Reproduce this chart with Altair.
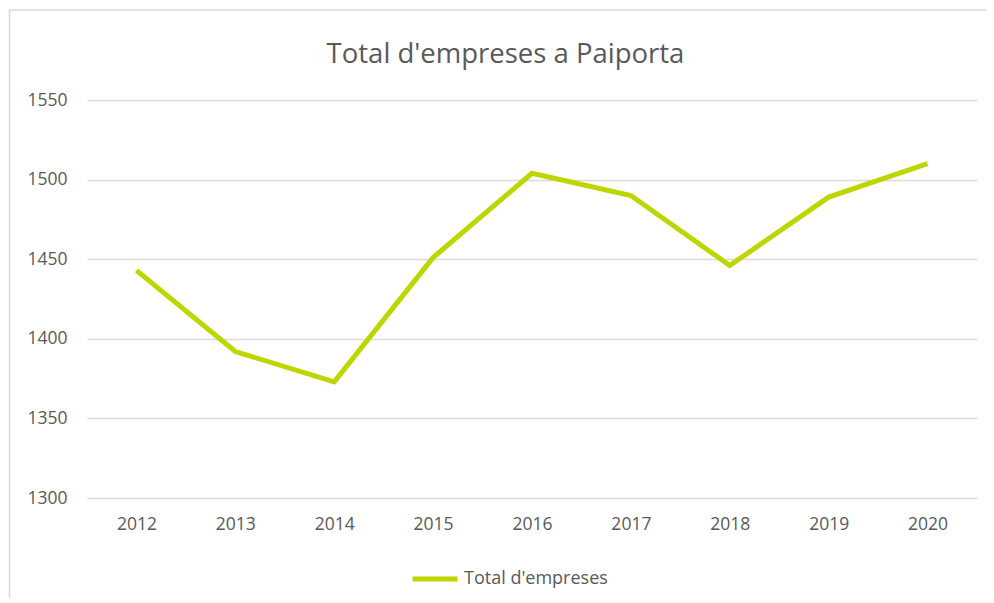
import altair as alt
import pandas as pd

years = ["2012", "2013", "2014", "2015", "2016", "2017", "2018", "2019", "2020"]
values = [1443, 1392, 1373, 1451, 1504, 1490, 1446, 1489, 1510]
series = ["Total d'empreses"] * len(years)
title_text = ["Total d'empreses a Paiporta"]

df = pd.DataFrame({"Any": years, "Empreses": values, "Serie": series})
df_title = pd.DataFrame({"t": title_text})

FONT = "Open Sans"
GREY = "#595959"

line = alt.Chart(df).mark_line(strokeWidth=5, strokeCap="butt", strokeJoin="miter").encode(
    x=alt.X("Any:O", title=None, sort=years,
            axis=alt.Axis(labelAngle=0, domain=False, ticks=False, labelPadding=17,
                          labelFontSize=17.5, labelColor=GREY, labelFont=FONT, grid=False)),
    y=alt.Y("Empreses:Q", title=None,
            scale=alt.Scale(domain=[1300, 1550], nice=False, zero=False),
            axis=alt.Axis(values=[1300, 1350, 1400, 1450, 1500, 1550], format="d",
                          domain=False, ticks=False,
                          labelPadding=20, labelFontSize=17.5, labelColor=GREY, labelFont=FONT,
                          grid=True, gridColor="#d9d9d9", gridWidth=1.5)),
    color=alt.Color("Serie:N", scale=alt.Scale(range=["#bed600"]),
                    legend=alt.Legend(title=None, orient="none", legendX=323, legendY=454,
                                      symbolType="stroke", symbolSize=2025, symbolStrokeWidth=5,
                                      labelFontSize=18, labelColor=GREY, labelFont=FONT,
                                      labelOffset=4)),
)

frame = alt.Chart(df_title).mark_rect(fill=None, stroke="#d9d9d9", strokeWidth=1.5).encode(
    x=alt.value(-77.5), x2=alt.value(1000), y=alt.value(-90), y2=alt.value(700)
)

title = alt.Chart(df_title).mark_text(
    font=FONT, fontSize=27.5, color=GREY, align="center", baseline="alphabetic"
).encode(text="t:N", x=alt.value(418.5), y=alt.value(-37))

chart = alt.layer(frame, line, title).properties(
    width=890,
    height=398,
    autosize=alt.AutoSizeParams(type="none"),
    padding={"left": 79, "top": 92, "right": 9, "bottom": 100},
).configure(background="white").configure_view(strokeWidth=0)

chart.save("out.html", embed_options={"renderer": "svg", "actions": False})
